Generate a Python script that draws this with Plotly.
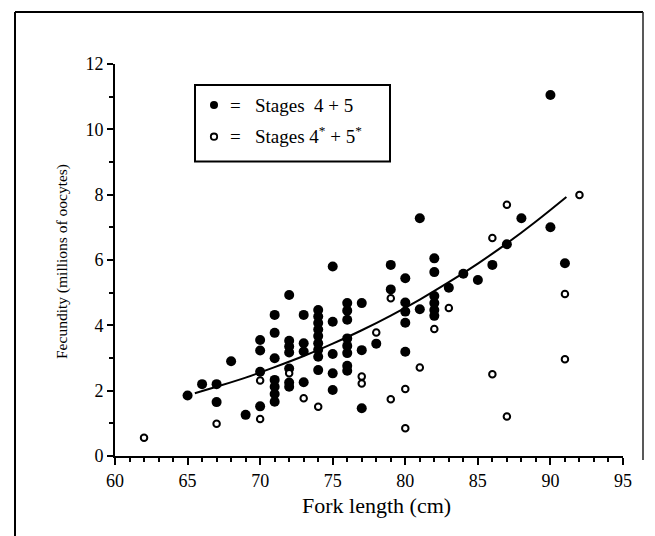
import plotly.graph_objects as go

# ---- data ----
# Stages 4 + 5 (filled circles)
filled_len = [65, 66, 67, 67, 68, 69,
              70, 70, 70, 70,
              71, 71, 71, 71, 71, 71, 71,
              72, 72, 72, 72, 72, 72, 72,
              73, 73, 73, 73,
              74, 74, 74, 74, 74, 74, 74, 74, 74,
              75, 75, 75, 75, 75,
              76, 76, 76, 76, 76, 76, 76, 76,
              77, 77, 77, 78, 79, 79,
              80, 80, 80, 80, 80,
              81, 81,
              82, 82, 82, 82, 82, 82,
              83, 84, 85, 86, 87, 88, 90, 90, 91]
filled_fec = [1.85, 2.2, 2.2, 1.65, 2.9, 1.26,
              3.55, 3.23, 2.58, 1.52,
              4.32, 3.77, 2.99, 2.33, 2.12, 1.9, 1.66,
              4.93, 3.53, 3.35, 3.17, 2.68, 2.25, 2.12,
              4.32, 3.45, 3.2, 2.26,
              4.47, 4.27, 4.07, 3.87, 3.67, 3.45, 3.25, 3.04, 2.63,
              5.8, 4.11, 3.12, 2.53, 2.02,
              4.68, 4.45, 4.17, 3.6, 3.37, 3.15, 2.76, 2.61,
              4.68, 3.24, 1.46, 3.44, 5.85, 5.1,
              5.44, 4.7, 4.42, 4.08, 3.19,
              7.28, 4.49,
              6.05, 5.63, 4.9, 4.68, 4.47, 4.29,
              5.15, 5.58, 5.39, 5.85, 6.48, 7.28, 11.05, 7.0, 5.9]

# Stages 4* + 5* (open circles)
open_len = [62, 67, 70, 70, 72, 73, 74, 77, 77, 78, 79, 79, 80, 80,
            81, 82, 83, 86, 86, 87, 87, 91, 91, 92]
open_fec = [0.56, 0.99, 2.31, 1.13, 2.53, 1.77, 1.51, 2.43, 2.22, 3.78,
            4.83, 1.74, 2.05, 0.85, 2.71, 3.89, 4.53, 6.67, 2.5, 7.69,
            1.21, 4.96, 2.96, 7.99]

# fitted curve
curve_len = [65.5, 67, 69, 71, 73, 75, 77, 79, 81, 83, 85, 87, 89, 91.1]
curve_fec = [1.92, 2.12, 2.40, 2.72, 3.06, 3.44, 3.85, 4.30, 4.79, 5.32,
             5.89, 6.51, 7.18, 7.93]

x_ticks = [60, 65, 70, 75, 80, 85, 90, 95]
y_ticks = [0, 2, 4, 6, 8, 10, 12]

SERIF = "Liberation Serif, Times New Roman, serif"

fig = go.Figure()
fig.add_trace(go.Scatter(
    x=filled_len, y=filled_fec, mode="markers",
    marker=dict(symbol="circle", size=10, color="black",
                line=dict(width=0)),
    name="Stages 4 + 5"))
fig.add_trace(go.Scatter(
    x=curve_len, y=curve_fec, mode="lines", line_shape="spline",
    line=dict(color="black", width=2), name="fit"))
fig.add_trace(go.Scatter(
    x=open_len, y=open_fec, mode="markers",
    marker=dict(symbol="circle", size=6.5, color="white",
                line=dict(width=2, color="black")),
    name="Stages 4* + 5*"))

axis_common = dict(
    showline=True, linecolor="black", linewidth=2,
    showgrid=False, zeroline=False,
    ticks="outside", tickcolor="black", tickwidth=1.5,
    tickfont=dict(family=SERIF, size=18, color="black"),
)
fig.update_xaxes(range=[60, 95], tickvals=x_ticks, ticktext=[str(v) for v in x_ticks],
                 ticklen=7,
                 minor=dict(dtick=1, ticks="outside", ticklen=4, tickwidth=1.5,
                            tickcolor="black"),
                 **axis_common)
fig.update_yaxes(range=[0, 12], tickvals=y_ticks, ticktext=[str(v) for v in y_ticks],
                 ticklen=6,
                 minor=dict(dtick=1, ticks="outside", ticklen=4, tickwidth=1.5,
                            tickcolor="black"),
                 **axis_common)

# page has an 8px body margin: positions below are screenshot pixels,
# plot area spans 115..623 (x) and 64..456 (y) on screen
def px(x):
    return (x - 115) / 508.0

def py(y):
    return (456 - y) / 392.0

shapes = []
# outer frame (left, top, right); bottom open
shapes.append(dict(type="line", xref="paper", yref="paper",
                   x0=px(15), x1=px(15), y0=py(560), y1=py(12),
                   line=dict(color="black", width=2)))
shapes.append(dict(type="line", xref="paper", yref="paper",
                   x0=px(15), x1=px(643), y0=py(12), y1=py(12),
                   line=dict(color="black", width=2)))
shapes.append(dict(type="line", xref="paper", yref="paper",
                   x0=px(643), x1=px(643), y0=py(12), y1=py(460),
                   line=dict(color="#222222", width=1.5)))
# legend box
shapes.append(dict(type="rect", xref="paper", yref="paper",
                   x0=px(195), x1=px(390), y0=py(161.5), y1=py(85),
                   line=dict(color="black", width=2), fillcolor="white"))
# legend markers
shapes.append(dict(type="circle", xref="paper", yref="paper",
                   xsizemode="pixel", ysizemode="pixel",
                   xanchor=px(214), yanchor=py(105),
                   x0=-4, x1=4, y0=-4, y1=4,
                   fillcolor="black", line=dict(color="black", width=0)))
shapes.append(dict(type="circle", xref="paper", yref="paper",
                   xsizemode="pixel", ysizemode="pixel",
                   xanchor=px(214), yanchor=py(136.7),
                   x0=-3.2, x1=3.2, y0=-3.2, y1=3.2,
                   fillcolor="white", line=dict(color="black", width=1.8)))

annotations = [
    dict(text="=&nbsp;&nbsp; Stages&nbsp;&nbsp;4 + 5", xref="paper", yref="paper",
         x=px(228), y=py(105), xanchor="left", yanchor="middle",
         showarrow=False, font=dict(family=SERIF, size=19, color="black")),
    dict(text="=&nbsp;&nbsp; Stages 4<sup>*</sup> + 5<sup>*</sup>", xref="paper", yref="paper",
         x=px(228), y=py(135), xanchor="left", yanchor="middle",
         showarrow=False, font=dict(family=SERIF, size=19, color="black")),
    dict(text="Fork length (cm)", xref="paper", yref="paper",
         x=px(376), y=py(505), xanchor="center", yanchor="middle",
         showarrow=False, font=dict(family=SERIF, size=22, color="black")),
    dict(text="Fecundity (millions of oocytes)", xref="paper", yref="paper",
         x=px(62), y=py(262), xanchor="center", yanchor="middle", textangle=-90,
         showarrow=False, font=dict(family=SERIF, size=15.5, color="black")),
]

fig.update_layout(
    width=647, height=528, autosize=False,
    margin=dict(l=107, r=32, t=56, b=80),
    plot_bgcolor="white", paper_bgcolor="white",
    showlegend=False,
    shapes=shapes, annotations=annotations,
    font=dict(family=SERIF, color="black"),
)

fig.write_html("out.html")
